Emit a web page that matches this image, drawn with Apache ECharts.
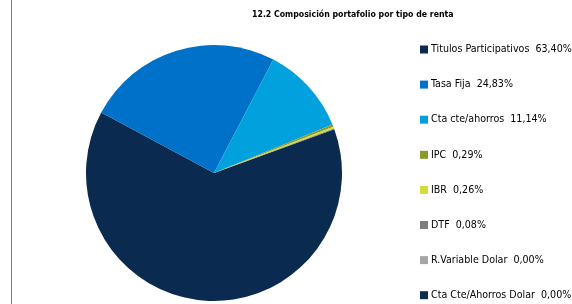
<!DOCTYPE html>
<html>
<head>
<meta charset="utf-8">
<script src="https://cdn.jsdelivr.net/npm/echarts@6/dist/echarts.min.js"></script>
<style>
	html, body {margin: 0; padding: 0; background: #fff;}
	#chart {width: 572px; height: 304px;}
</style>
</head>
<body>
<div id="chart"></div>
<script>
// datos del grafico
const categorias = ['Titulos Participativos', 'Tasa Fija', 'Cta cte/ahorros', 'IPC', 'IBR', 'DTF', 'R.Variable Dolar', 'Cta Cte/Ahorros Dolar'];
const valores = [63.40, 24.83, 11.14, 0.29, 0.26, 0.08, 0.00, 0.00];
const colores = ['#0a2b4f', '#0071c9', '#00a1dd', '#8c9a2a', '#d3dc3d', '#7f7f7f', '#a6a6a6', '#0b2e4f'];
const titulo = '12.2 Composición portafolio por tipo de renta';

const fmt = v => v.toFixed(2).replace('.', ',') + '%';

const chart = echarts.init(document.getElementById('chart'), null, {renderer: 'canvas'});
const font = '"Liberation Sans Narrow", "DejaVu Sans Condensed", "Liberation Sans", sans-serif';

const option = {
	animation: false,
	title: {
		text: titulo,
		left: 252,
		top: 10,
		padding: 0,
		textStyle: {
			fontFamily: font,
			fontSize: 8.7,
			fontWeight: 'bold',
			color: '#000'
		}
	},
	color: colores,
	legend: {
		orient: 'vertical',
		left: 420,
		top: 44,
		height: 300,
		padding: 0,
		itemWidth: 8,
		itemHeight: 8,
		itemGap: 24.1,
		icon: 'rect',
		selectedMode: false,
		data: categorias,
		formatter: name => name + '  ' + fmt(valores[categorias.indexOf(name)]),
		textStyle: {
			fontFamily: font,
			fontSize: 10.6,
			color: '#000',
			padding: [0, 0, 0, -2]
		}
	},
	graphic: [{
		type: 'line',
		shape: {x1: 11.5, y1: 0, x2: 11.5, y2: 304},
		style: {stroke: '#7f7f7f', lineWidth: 1}
	}],
	series: [{
		type: 'pie',
		center: [214, 173],
		radius: 128,
		startAngle: 20,
		clockwise: true,
		label: {show: false},
		labelLine: {show: false},
		emphasis: {disabled: true},
		itemStyle: {borderWidth: 0},
		data: categorias.map((n, i) => ({name: n, value: valores[i]}))
	}]
};
chart.setOption(option);
</script>
</body>
</html>
